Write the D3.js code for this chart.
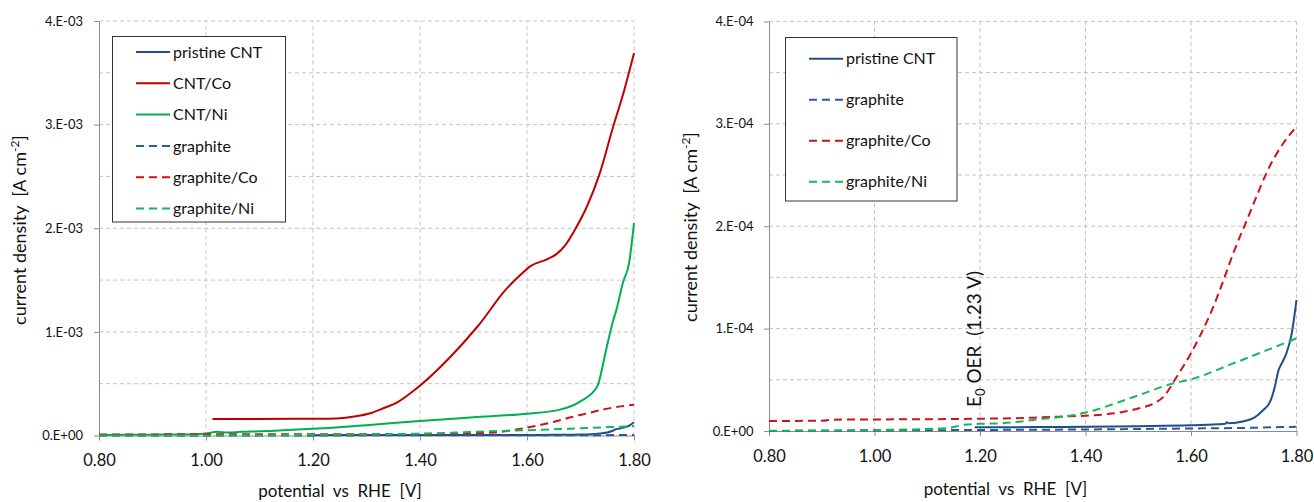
<!DOCTYPE html>
<html><head><meta charset="utf-8">
<script src="https://cdn.jsdelivr.net/npm/d3@7"></script>
<style>
body{margin:0;background:#fff}
svg{display:block;font-family:Lato,"Open Sans",sans-serif}
</style>
</head><body><svg id="c" width="1314" height="502"></svg>
<script>
// ---------- DATA (potential V vs RHE, current density A cm^-2) ----------
const pristineV = [1.19, 1.30, 1.40, 1.50, 1.60, 1.65, 1.665, 1.668, 1.672, 1.70, 1.72, 1.737, 1.750, 1.759, 1.766, 1.772, 1.781, 1.791, 1.80];
const pristineI = [0.36e-5, 0.38e-5, 0.42e-5, 0.47e-5, 0.55e-5, 0.65e-5, 0.70e-5, 0.85e-5, 0.75e-5, 0.95e-5, 1.3e-5, 2.05e-5, 2.86e-5, 4.33e-5, 5.96e-5, 6.6e-5, 7.6e-5, 9.54e-5, 12.8e-5];

const cntCoV = [1.012, 1.10, 1.20, 1.244, 1.28, 1.31, 1.335, 1.356, 1.38, 1.402, 1.457, 1.504, 1.512, 1.559, 1.59, 1.605, 1.637, 1.655, 1.672, 1.69, 1.712, 1.736, 1.761, 1.780, 1.80];
const cntCoI = [0.16e-3, 0.16e-3, 0.162e-3, 0.165e-3, 0.185e-3, 0.22e-3, 0.27e-3, 0.315e-3, 0.40e-3, 0.49e-3, 0.76e-3, 1.03e-3, 1.08e-3, 1.40e-3, 1.56e-3, 1.63e-3, 1.70e-3, 1.75e-3, 1.84e-3, 1.99e-3, 2.21e-3, 2.53e-3, 2.98e-3, 3.30e-3, 3.69e-3];

const cntNiV = [0.80, 0.90, 0.98, 1.00, 1.02, 1.04, 1.066, 1.10, 1.20, 1.30, 1.40, 1.50, 1.60, 1.658, 1.70, 1.731, 1.748, 1.760, 1.767, 1.779, 1.791, 1.80];
const cntNiI = [0.005e-3, 0.008e-3, 0.012e-3, 0.02e-3, 0.035e-3, 0.028e-3, 0.035e-3, 0.04e-3, 0.065e-3, 0.10e-3, 0.14e-3, 0.175e-3, 0.21e-3, 0.245e-3, 0.33e-3, 0.47e-3, 0.83e-3, 1.09e-3, 1.21e-3, 1.47e-3, 1.67e-3, 2.05e-3];

const graphiteV = [0.80, 1.00, 1.20, 1.40, 1.60, 1.70, 1.80];
const graphiteI = [0.0, 0.05e-5, 0.1e-5, 0.15e-5, 0.25e-5, 0.3e-5, 0.42e-5];

const graphiteCoV = [0.80, 0.90, 0.92, 1.00, 1.10, 1.20, 1.30, 1.35, 1.40, 1.45, 1.50, 1.53, 1.548, 1.573, 1.60, 1.62, 1.642, 1.66, 1.68, 1.706, 1.725, 1.744, 1.775, 1.80];
const graphiteCoI = [0.98e-5, 1.0e-5, 1.1e-5, 1.13e-5, 1.15e-5, 1.2e-5, 1.3e-5, 1.4e-5, 1.5e-5, 1.7e-5, 2.2e-5, 2.7e-5, 3.35e-5, 5.3e-5, 7.6e-5, 9.6e-5, 12.1e-5, 14.5e-5, 17.35e-5, 20.6e-5, 23.0e-5, 25.3e-5, 28.1e-5, 29.7e-5];

const graphiteNiV = [0.80, 0.90, 1.00, 1.10, 1.14, 1.17, 1.20, 1.238, 1.30, 1.40, 1.49, 1.567, 1.60, 1.68, 1.80];
const graphiteNiI = [0.03e-5, 0.05e-5, 0.1e-5, 0.2e-5, 0.3e-5, 0.6e-5, 0.7e-5, 0.75e-5, 1.07e-5, 1.8e-5, 3.3e-5, 4.66e-5, 5.05e-5, 6.6e-5, 9.05e-5];

const xTicks = [0.80, 1.00, 1.20, 1.40, 1.60, 1.80];
const xTickLabels = ["0.80", "1.00", "1.20", "1.40", "1.60", "1.80"];
const leftYTicks = [0, 1e-3, 2e-3, 3e-3, 4e-3];
const leftYTickLabels = ["0.E+00", "1.E-03", "2.E-03", "3.E-03", "4.E-03"];
const rightYTicks = [0, 1e-4, 2e-4, 3e-4, 4e-4];
const rightYTickLabels = ["0.E+00", "1.E-04", "2.E-04", "3.E-04", "4.E-04"];

const leftSeriesNames = ["pristine CNT", "CNT/Co", "CNT/Ni", "graphite", "graphite/Co", "graphite/Ni"];
const rightSeriesNames = ["pristine CNT", "graphite", "graphite/Co", "graphite/Ni"];

// ---------- STYLE ----------
const BLUE = "#1F4E8A", RED = "#C00000", GREEN = "#00B050";
const styles = {
  "pristine CNT": {color: BLUE, dash: null, v: pristineV, i: pristineI},
  "CNT/Co": {color: RED, dash: null, v: cntCoV, i: cntCoI},
  "CNT/Ni": {color: GREEN, dash: null, v: cntNiV, i: cntNiI},
  "graphite": {color: "#2A5A9A", dash: "8,5", v: graphiteV, i: graphiteI},
  "graphite/Co": {color: "#D0101A", dash: "8,5", v: graphiteCoV, i: graphiteCoI},
  "graphite/Ni": {color: "#14B85A", dash: "8,5", v: graphiteNiV, i: graphiteNiI}
};

const svg = d3.select("#c");

function drawPanel(p) {
  const g = svg.append("g");
  const x = d3.scaleLinear().domain([0.8, 1.8]).range([p.x0, p.x1]);
  const y = d3.scaleLinear().domain([0, p.ymax]).range([p.yb, p.yt]);

  // gridlines
  const hGrid = d3.range(1, 9).map(k => k * p.ymax / 8);
  g.append("g").selectAll("line").data(hGrid).join("line")
    .attr("x1", p.x0).attr("x2", p.x1)
    .attr("y1", d => y(d)).attr("y2", d => y(d))
    .attr("stroke", "#c4c4c4").attr("stroke-width", 1).attr("stroke-dasharray", "4,3");
  g.append("g").selectAll("line").data(xTicks.slice(1)).join("line")
    .attr("x1", d => x(d)).attr("x2", d => x(d))
    .attr("y1", p.yb).attr("y2", p.yt)
    .attr("stroke", "#c4c4c4").attr("stroke-width", 1).attr("stroke-dasharray", "4,3");

  // axes
  const ya = g.append("g").attr("transform", `translate(${p.x0},0)`)
    .call(d3.axisLeft(y).tickValues(p.yTicks).tickFormat((d, k) => p.yLabels[k])
      .tickSize(5).tickSizeOuter(0).tickPadding(p.yPad));
  const xa = g.append("g").attr("transform", `translate(0,${p.yb})`)
    .call(d3.axisBottom(x).tickValues(xTicks).tickFormat((d, k) => xTickLabels[k])
      .tickSize(5).tickSizeOuter(0).tickPadding(14));
  [ya, xa].forEach(a => {
    a.select(".domain").attr("stroke", "#8c8c8c");
    a.selectAll(".tick line").attr("stroke", "#8c8c8c");
    a.selectAll("text").attr("fill", "#111").attr("font-family", "Lato");
  });
  ya.selectAll("text").attr("font-size", 13);
  xa.selectAll("text").attr("font-size", 16.5);

  // series
  const line = d3.line().x(d => x(d[0])).y(d => y(d[1])).curve(d3.curveMonotoneX);
  p.series.forEach(name => {
    const s = styles[name];
    const pts = s.v.map((v, k) => [v, s.i[k]]);
    g.append("path").datum(pts).attr("d", line)
      .attr("fill", "none").attr("stroke", s.color).attr("stroke-width", 2)
      .attr("stroke-dasharray", s.dash).attr("stroke-linejoin", "round");
  });

  // legend
  const lg = g.append("g");
  lg.append("rect").attr("x", p.leg.x).attr("y", p.leg.y).attr("width", p.leg.w).attr("height", p.leg.h)
    .attr("fill", "#fff").attr("stroke", "#333").attr("stroke-width", 1);
  p.series.forEach((name, k) => {
    const s = styles[name];
    const yy = p.leg.row0 + k * p.leg.step;
    lg.append("line").attr("x1", p.leg.lx0).attr("x2", p.leg.lx1).attr("y1", yy).attr("y2", yy)
      .attr("stroke", s.color).attr("stroke-width", 2).attr("stroke-dasharray", s.dash);
    lg.append("text").attr("x", p.leg.lx1 + 3).attr("y", yy).attr("dy", "0.36em")
      .attr("font-size", 16).attr("fill", "#111").text(name);
  });

  // axis titles
  const yt = g.append("text").attr("transform", `translate(${p.ytx},${p.yty}) rotate(-90)`)
    .attr("text-anchor", "middle").attr("font-size", 18).attr("fill", "#111")
    .style("white-space", "pre");
  yt.append("tspan").text("current density  [A cm");
  yt.append("tspan").attr("font-size", 12).attr("dy", -7).text("-2");
  yt.append("tspan").attr("dy", 7).text("]");

  g.append("text").attr("x", p.xtx).attr("y", p.xty).attr("text-anchor", "middle")
    .attr("font-size", 17).attr("fill", "#111").style("white-space", "pre")
    .text("potential  vs  RHE  [V]");

  return {x, y, g};
}

drawPanel({
  x0: 99, x1: 634, yb: 435.5, yt: 21, ymax: 4e-3,
  yTicks: leftYTicks, yLabels: leftYTickLabels, yPad: 11,
  series: leftSeriesNames,
  leg: {x: 112.5, y: 36.5, w: 173, h: 185.5, lx0: 136, lx1: 170, row0: 52, step: 31.3},
  ytx: 26, yty: 230, xtx: 340, xty: 497
});

const right = drawPanel({
  x0: 769, x1: 1296.5, yb: 431, yt: 21.4, ymax: 4e-4,
  yTicks: rightYTicks, yLabels: rightYTickLabels, yPad: 10.5,
  series: rightSeriesNames,
  leg: {x: 785.5, y: 37.5, w: 171.5, h: 163.5, lx0: 809, lx1: 843, row0: 58.7, step: 41},
  ytx: 696.5, yty: 227, xtx: 1005.5, xty: 495
});

// annotation: thermodynamic OER potential
const ax = right.x(1.23) - 15;
const ann = right.g.append("text").attr("transform", `translate(${ax},407) rotate(-90)`)
  .attr("text-anchor", "start").attr("font-size", 19).attr("fill", "#111").style("white-space", "pre");
ann.append("tspan").text("E");
ann.append("tspan").attr("font-size", 13).attr("dy", 4).text("0");
ann.append("tspan").attr("dy", -4).text(" OER  (1.23 V)");
</script>
</body></html>
